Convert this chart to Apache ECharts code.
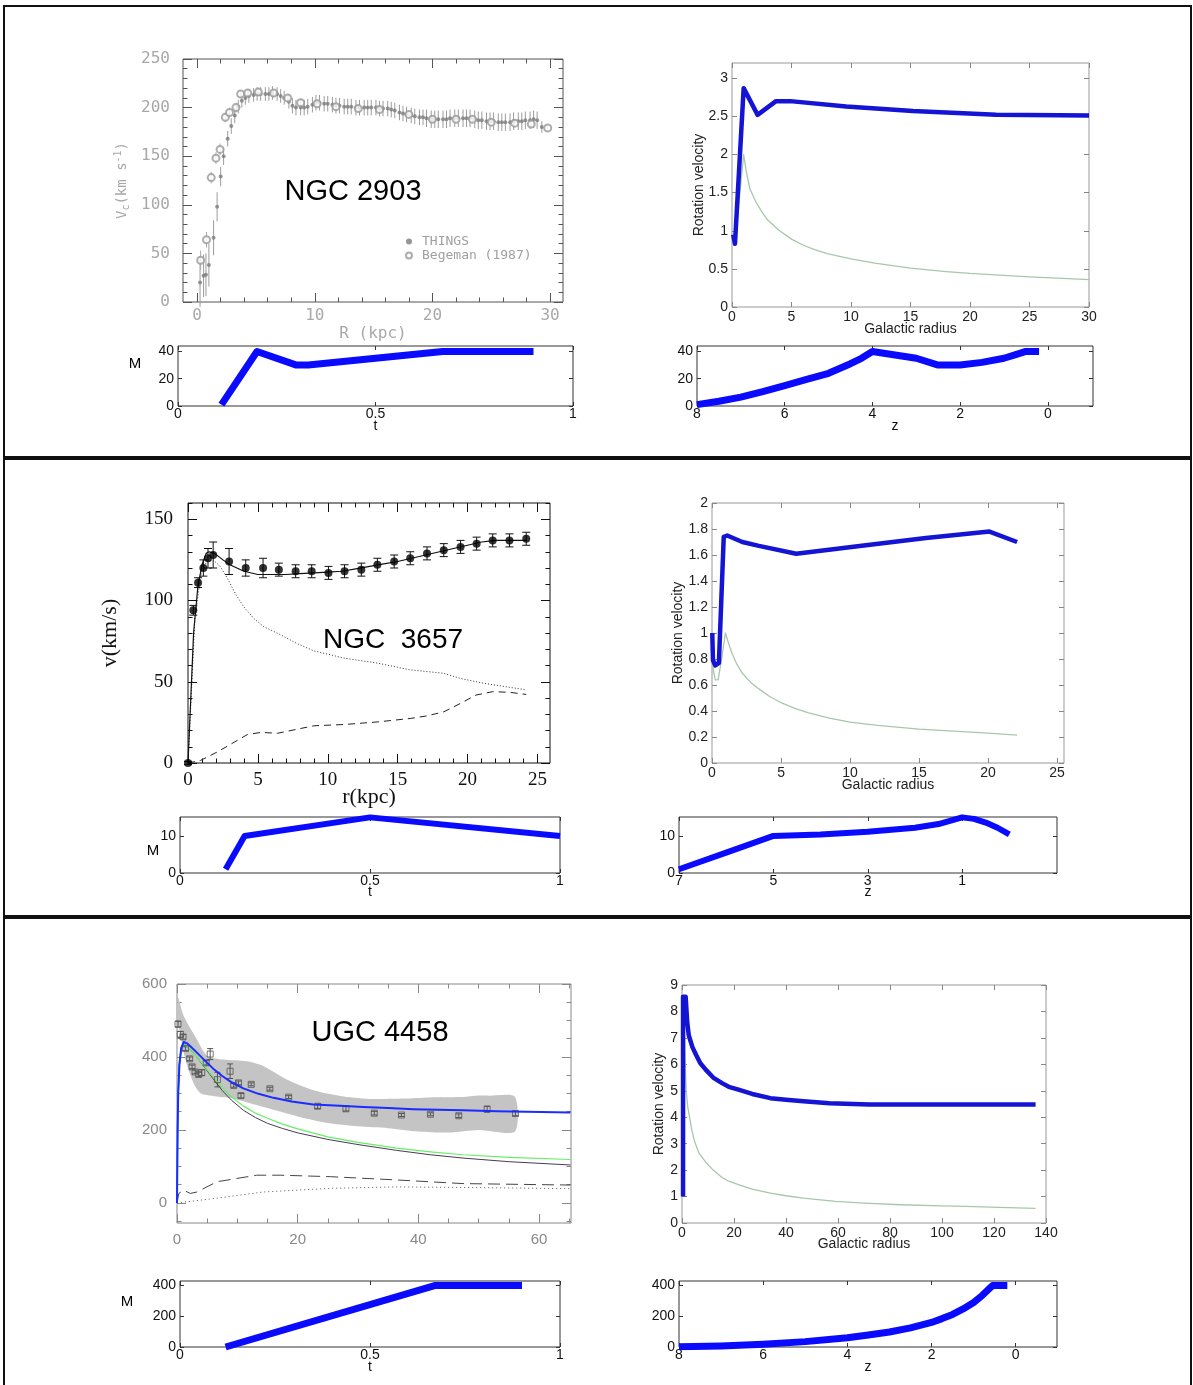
<!DOCTYPE html>
<html>
<head>
<meta charset="utf-8">
<script src="https://cdn.jsdelivr.net/npm/echarts@6/dist/echarts.min.js"></script>
<style>
  html, body { margin: 0; background: #fff; }
  #chart { width: 1193px; height: 1385px; }
</style>
</head>
<body>
<div id="chart"></div>
<script>
// ---------- top row : NGC 2903 ----------
const ngc2903RTicks = [0, 10, 20, 30];
const ngc2903VTicks = [0, 50, 100, 150, 200, 250];
// [R, Vc, error]
const things2903 = [
  [0.25,20,25],[0.55,27,22],[0.75,28,22],[1.0,38,22],[1.4,66,18],[1.7,98,15],[2.0,129,10],[2.25,150,9],
  [2.6,168,8],[2.9,181,8],[3.2,192,8],[3.5,201,7],[3.8,207,7],[4.1,210,7],[4.4,212,7],[4.8,213,7],
  [5.1,214,7],[5.4,214,7],[5.8,214,7],[6.1,214,7],[6.4,215,7],[6.8,214,7],[7.1,212,7],[7.4,210,7],
  [7.8,206,7],[8.1,202,8],[8.4,200,8],[8.8,200,8],[9.1,200,8],[9.4,201,8],[9.8,203,8],[10.1,205,8],
  [10.4,205,8],[10.8,204,8],[11.1,204,8],[11.5,203,8],[11.8,202,8],[12.1,202,8],[12.5,201,8],[12.8,201,8],
  [13.1,201,8],[13.5,200,8],[13.8,200,8],[14.2,200,8],[14.5,200,8],[14.8,200,8],[15.2,200,8],[15.5,199,8],
  [15.8,199,8],[16.2,199,8],[16.5,198,8],[16.8,197,8],[17.2,195,8],[17.5,194,8],[17.8,193,8],[18.2,192,8],
  [18.5,191,8],[18.9,190,8],[19.2,190,8],[19.5,189,9],[19.9,188,9],[20.2,188,9],[20.5,188,9],[20.9,188,9],
  [21.2,188,9],[21.5,189,9],[21.9,189,9],[22.2,189,9],[22.6,189,9],[22.9,189,9],[23.2,189,9],[23.6,188,9],
  [23.9,187,9],[24.2,187,9],[24.6,186,9],[24.9,186,9],[25.2,186,9],[25.6,185,9],[25.9,185,9],[26.2,185,9],
  [26.6,185,9],[26.9,186,9],[27.3,186,9],[27.6,186,9],[27.9,187,9],[28.3,187,9],[28.6,188,9],[28.9,187,9],
  [29.3,180,6]
];
const begeman2903 = [
  [0.3,43,10],[0.8,64,8],[1.2,128,6],[1.6,148,6],[1.95,157,6],[2.4,190,5],[2.75,195,5],[3.3,200,5],
  [3.7,214,4],[4.3,215,4],[5.2,216,4],[6.5,215,4],[7.7,210,4],[8.8,205,4],[10.2,204,4],[11.8,201,3],
  [13.7,199,3],[15.5,198,3],[18,193,3],[20,188,3],[22,188,3],[23.4,188,3],[25,185,3],[27,184,3],
  [28.4,183,3],[29.8,179,3]
];

const rot1RTicks = [0, 5, 10, 15, 20, 25, 30];
const rot1VTicks = [0, 0.5, 1, 1.5, 2, 2.5, 3];
const rot1Total = [[0.1,0.95],[0.25,0.83],[0.98,2.87],[2.15,2.52],[3.7,2.70],[4.9,2.70],[9.6,2.63],[15.2,2.57],[22.2,2.52],[30,2.51]];
const rot1Baryon = [[0.1,0.92],[0.25,0.83],[0.98,2.0],[1.2,1.78],[1.5,1.55],[2,1.38],[2.5,1.25],[3,1.14],[4,1.0],[5,0.89],[6,0.81],[7,0.75],[8,0.70],[10,0.63],[12,0.575],[15,0.51],[18,0.465],[20,0.44],[25,0.395],[30,0.36]];

const massTTicks = [0, 0.5, 1];
const mass1MTicks = [0, 20, 40];
const mass1ZTicks = [8, 6, 4, 2, 0];
const mass1T = [[0.11,1],[0.2,40],[0.3,30],[0.33,30],[0.5,35],[0.67,40],[0.9,40]];
const mass1Z = [[8,1],[7.5,3.5],[7,6.5],[6.5,10.5],[6,15],[5.5,19.5],[5,24],[4.75,27.5],[4.5,31],[4.25,35],[4,40],[3,35],[2.5,30],[2,30],[1.5,32],[1,35],[0.75,37.5],[0.5,40],[0.2,40]];

// ---------- middle row : NGC 3657 ----------
const ngc3657RTicks = [0, 5, 10, 15, 20, 25];
const ngc3657VTicks = [0, 50, 100, 150];
const ngc3657Obs = [
  [0,0,1],[0.38,94,3],[0.72,111,3],[1.1,120,5],[1.43,126,6],[1.8,128,8],[2.94,124,8],[4.13,120,5],
  [5.37,120,6],[6.5,119,4],[7.7,118,4],[8.85,118,4],[10.05,117,4],[11.2,118,4],[12.4,119,4],[13.55,122,4],
  [14.75,124,4],[15.9,126,4],[17.1,129,4],[18.3,131,4],[19.5,133,4],[20.65,135,4],[21.8,137,4],[23.0,137,4],[24.2,138,4]
];
const ngc3657Fit = [[0,0],[0.4,80],[0.7,108],[1.0,122],[1.3,129],[1.5,130],[1.9,129],[2.5,125],[3.0,122],[4.0,118],[5,116],[7,116],[8,116.5],[10,117.5],[11,118],[12,119.5],[13,121],[14,122.5],[15,124],[16,126],[17,128],[18,130],[19,132],[20,134],[21,136],[22,137],[24.2,137]];
const ngc3657Disk = [[0,0],[0.5,90],[1.0,120],[1.4,124],[1.8,125],[2.3,121],[2.8,114],[3.4,104],[4.0,96],[4.7,89],[5.4,84],[6.6,79],[7.8,73.5],[9,69],[11.2,64.5],[13.6,61.4],[15.9,57.3],[18.3,55.2],[19.5,52],[21.2,49],[24.2,45]];
const ngc3657Gas = [[0,0],[0.9,1.6],[2.1,6.8],[4.25,17.5],[5.2,18.8],[6.4,18.3],[9,22.9],[11.2,23.7],[13.6,25.3],[15.9,27.4],[17.1,29],[18.3,31.5],[19.5,36.7],[20.6,41.8],[21.8,43.9],[23,43.5],[24.2,42.2]];

const rot2RTicks = [0, 5, 10, 15, 20, 25];
const rot2VTicks = [0, 0.2, 0.4, 0.6, 0.8, 1, 1.2, 1.4, 1.6, 1.8, 2];
const rot2Total = [[0.02,1.0],[0.07,0.79],[0.24,0.75],[0.5,0.77],[0.85,1.74],[1.1,1.75],[2.2,1.70],[3.4,1.67],[6.1,1.61],[10.7,1.67],[15.5,1.73],[20.1,1.78],[22.1,1.70]];
const rot2Baryon = [[0.02,0.79],[0.12,0.7],[0.24,0.64],[0.44,0.64],[0.7,0.8],[0.97,1.0],[1.2,0.92],[1.46,0.84],[1.8,0.76],[2.2,0.69],[2.8,0.62],[3.4,0.57],[4.2,0.51],[5,0.465],[6,0.42],[7,0.385],[8.5,0.345],[10,0.315],[12,0.29],[15,0.26],[17.5,0.245],[20,0.23],[22.1,0.215]];

const mass2MTicks = [0, 10];
const mass2ZTicks = [7, 5, 3, 1];
const mass2T = [[0.12,1],[0.17,10],[0.5,15],[1,10]];
const mass2Z = [[7,1],[6,5.5],[5,10],[4,10.4],[3,11.1],[2,12.2],[1.5,13.2],[1,15],[0.75,14.6],[0.5,13.6],[0.25,12.2],[0,10.4]];

// ---------- bottom row : UGC 4458 ----------
const ugcRTicks = [0, 20, 40, 60];
const ugcVTicks = [0, 200, 400, 600];
const ugcObs = [
  [0.17,490,8],[0.55,462,8],[1.0,455,6],[1.4,423,5],[2.1,395,5],[2.5,373,5],[3.0,359,5],[3.6,352,6],
  [4.1,357,8],[4.85,384,6],[5.5,408,15],[6.7,338,20],[8.8,361,20],[9.4,322,5],[10.2,329,5],[10.6,294,6],
  [12.3,325,4],[15.4,313,4],[18.5,290,4],[23.3,265,6],[28,258,6],[32.7,246,5],[37.2,241,4],[42,243,4],
  [46.7,239,5],[51.4,257,8],[56.1,245,6]
];
const ugcBandUpR = [0.17,1.1,3.3,5,7.7,11.6,14.3,18.2,22.6,27.6,32.5,37.5,41.9,46.9,49.6,51.8,56];
const ugcBandUp = [563,513,448,403,393,388,375,338,309,292,285,286,289,290,294,294,291];
const ugcBandLowR = [0.17,0.5,1,2,3,4,6,8.5,10,15,20,25,30,35,40,45,50,56];
const ugcBandLow = [490,470,420,360,320,300,293,288,283,260,237,219,210,205,196,193,200,196];
const ugcFit = [[0,0],[0.1,200],[0.2,300],[0.4,380],[0.7,425],[1.1,441],[1.6,438],[2.3,428],[3.3,412],[4.5,392],[6,368],[7.5,348],[9,331],[11,314],[13.5,299],[16,288],[19,278],[22.6,270],[27,266],[30.9,263],[35,260],[39.2,257],[47.4,254],[53,251],[65.2,248]];
const ugcHalo = [[0,0],[0.1,200],[0.2,300],[0.4,380],[0.7,425],[1.0,435],[1.5,432],[2.2,420],[3.3,400],[4.5,375],[6,345],[7.5,316],[9,291],[11,266],[13,246],[15,232],[17.5,216],[20,203],[25,181],[30,166],[36.4,150],[42,140],[47.4,132],[55,125],[65.2,119]];
const ugcStars = [[0,0],[0.1,200],[0.2,300],[0.4,380],[0.7,425],[1.0,435],[1.5,432],[2.2,420],[3.3,400],[4.5,373],[6,340],[7.5,308],[9,282],[11,254],[13,234],[15,218],[17.5,204],[20,192],[25,174],[30,160],[36.4,144],[42,132],[47.4,123],[55,113],[65.2,104]];
const ugcGas = [[0,0],[0.3,26],[1.1,35],[2.2,26],[3.3,30],[6.6,58],[13.2,76],[17.1,76],[25.4,72],[36.4,63],[47.4,53],[65.2,49]];
const ugcDust = [[0,0],[6.1,12],[14.3,30],[25.4,40],[36.4,44],[50,42],[65.2,39]];
const ugcInner = [[0,0],[0.1,200],[0.2,300],[0.4,380],[0.8,428],[1.2,438]];

const rot3RTicks = [0, 20, 40, 60, 80, 100, 120, 140];
const rot3VTicks = [0, 1, 2, 3, 4, 5, 6, 7, 8, 9];
const rot3Total = [[0.4,1.0],[0.4,8.56],[1.4,8.56],[2,7.6],[2.6,7.1],[4,6.65],[5.4,6.36],[7,6.05],[9.1,5.8],[12,5.5],[15.4,5.29],[18,5.15],[21.7,5.04],[27,4.88],[34,4.72],[40,4.66],[46.7,4.6],[56.7,4.53],[72,4.48],[136,4.48]];
const rot3Baryon = [[0.7,8.4],[1,6.8],[1.6,5.0],[2.2,4.4],[2.9,4.0],[3.8,3.5],[4.8,3.1],[6.5,2.65],[9.1,2.3],[12,2.0],[15.4,1.72],[18,1.58],[21.7,1.45],[27,1.28],[34,1.13],[40,1.03],[46.7,0.94],[59,0.82],[70,0.75],[84,0.69],[100,0.65],[109,0.63],[122,0.59],[136,0.55]];

const mass3MTicks = [0, 200, 400];
const mass3T = [[0.12,0],[0.67,400],[0.9,400]];
const mass3Z = [[8,2],[7,7],[6,18],[5,35],[4,60],[3.5,78],[3,98],[2.5,125],[2,160],[1.75,185],[1.5,212],[1.25,248],[1,290],[0.8,335],[0.65,375],[0.55,400],[0.2,400]];

// ---------- building ----------
const sans = 'Liberation Sans', serif = 'Liberation Serif', mono = 'DejaVu Sans Mono';
const xAxes = [], yAxes = [], grids = [], series = [];

function steps(a, b, d) {
  const r = [];
  for (let v = a; v <= b + 1e-9; v += d) r.push(+v.toFixed(6));
  return r;
}

function axis(list, gi, pos, o, ticks, len, withLabel) {
  const a = {
    type: 'value', gridIndex: gi, position: pos, min: o.min, max: o.max, inverse: !!o.inverse,
    axisLine: {show: false, onZero: false},
    splitLine: {show: false},
    axisTick: {show: true, inside: true, length: len, customValues: ticks, lineStyle: {color: o.tickColor, width: 1}},
    axisLabel: {show: false}
  };
  if (withLabel) {
    a.axisLabel = Object.assign({show: true, customValues: ticks}, o.label);
    if (o.name) {
      a.name = o.name; a.nameLocation = 'middle'; a.nameGap = o.nameGap;
      a.nameTextStyle = o.nameStyle; a.nameMoveOverlap = false;
    }
  }
  list.push(a);
  return list.length - 1;
}

function panel(box, border, x, y) {
  grids.push({left: box[0], top: box[1], width: box[2], height: box[3], show: true,
    borderColor: border, borderWidth: 1, backgroundColor: 'transparent', outerBoundsMode: 'none', containLabel: false});
  const gi = grids.length - 1;
  const xi = axis(xAxes, gi, 'bottom', x, x.major, x.len, true);
  axis(xAxes, gi, 'top', x, x.major, x.len, false);
  if (x.minor) {
    axis(xAxes, gi, 'bottom', x, x.minor, x.len / 2, false);
    axis(xAxes, gi, 'top', x, x.minor, x.len / 2, false);
  }
  const yi = axis(yAxes, gi, 'left', y, y.major, y.len, true);
  axis(yAxes, gi, 'right', y, y.major, y.len, false);
  if (y.minor) {
    axis(yAxes, gi, 'left', y, y.minor, y.len / 2, false);
    axis(yAxes, gi, 'right', y, y.minor, y.len / 2, false);
  }
  return {x: xi, y: yi};
}

function line(ax, data, color, width, type, smooth, z) {
  series.push({type: 'line', xAxisIndex: ax.x, yAxisIndex: ax.y, data: data, showSymbol: false,
    smooth: smooth || false, smoothMonotone: 'x', z: z || 3, silent: true,
    lineStyle: {color: color, width: width, type: type || 'solid', cap: 'butt', join: 'round'}});
}

function errBars(ax, pts, color, cap) {
  series.push({type: 'custom', xAxisIndex: ax.x, yAxisIndex: ax.y, data: pts, silent: true, z: 2,
    encode: {x: 0, y: 1},
    renderItem: function (params, api) {
      const x = api.value(0), y = api.value(1), e = api.value(2);
      const lo = api.coord([x, y - e]), hi = api.coord([x, y + e]);
      const kids = [{type: 'line', shape: {x1: lo[0], y1: lo[1], x2: hi[0], y2: hi[1]}, style: {stroke: color, lineWidth: 1}}];
      if (cap) {
        kids.push({type: 'line', shape: {x1: lo[0] - cap, y1: lo[1], x2: lo[0] + cap, y2: lo[1]}, style: {stroke: color, lineWidth: 1}});
        kids.push({type: 'line', shape: {x1: hi[0] - cap, y1: hi[1], x2: hi[0] + cap, y2: hi[1]}, style: {stroke: color, lineWidth: 1}});
      }
      return {type: 'group', children: kids};
    }});
}

function points(ax, pts, name, symbol, size, style) {
  series.push({type: 'scatter', name: name, xAxisIndex: ax.x, yAxisIndex: ax.y, z: 4, silent: true,
    data: pts.map(p => [p[0], p[1]]), symbol: symbol, symbolSize: size, itemStyle: style});
}

const matLab = {color: '#222', fontFamily: sans, fontSize: 14};
const matName = {color: '#222', fontFamily: sans, fontSize: 14};
const smallLab = {color: '#111', fontFamily: sans, fontSize: 14};

// NGC 2903
const pgLab = {color: '#a8a8a8', fontFamily: mono, fontSize: 16};
const a0 = panel([183, 59, 380, 243], '#555',
  {min: -1.2, max: 31.1, major: ngc2903RTicks, minor: steps(0, 30, 2), len: 9, tickColor: '#555',
   label: Object.assign({margin: 6}, pgLab), name: 'R (kpc)', nameGap: 24, nameStyle: pgLab},
  {min: 0, max: 250, major: ngc2903VTicks, minor: steps(0, 250, 10), len: 9, tickColor: '#555',
   label: Object.assign({margin: 13}, pgLab),
   name: '{v|V}{s|c}{v|(km s}{e|-1}{v|)}', nameGap: 52,
   nameStyle: {color: '#a8a8a8', fontFamily: mono, fontSize: 14,
     rich: {v: {fontFamily: mono, fontSize: 14, color: '#a8a8a8'},
            s: {fontFamily: mono, fontSize: 10, color: '#a8a8a8', padding: [8, 0, 0, 0]},
            e: {fontFamily: mono, fontSize: 10, color: '#a8a8a8', padding: [0, 0, 8, 0]}}}});
errBars(a0, things2903, '#9c9c9c', 0);
errBars(a0, begeman2903, '#aaaaaa', 0);
points(a0, things2903, 'THINGS', 'circle', 4, {color: '#7c7c7c'});
points(a0, begeman2903, 'Begeman (1987)', 'emptyCircle', 7, {color: '#999', borderWidth: 1});

// top right
const a1 = panel([732, 63, 357, 244], '#999',
  {min: 0, max: 30, major: rot1RTicks, len: 5, tickColor: '#888', label: Object.assign({margin: 3}, matLab),
   name: 'Galactic radius', nameGap: 15, nameStyle: matName},
  {min: 0, max: 3.2, major: rot1VTicks, len: 5, tickColor: '#888', label: Object.assign({margin: 4}, matLab),
   name: 'Rotation velocity', nameGap: 26, nameStyle: {color: '#222', fontFamily: sans, fontSize: 14}});
line(a1, rot1Baryon, '#a7c7ab', 1.3);
line(a1, rot1Total, '#1414d4', 4.5, 'solid', false, 5);

// top small t / z
const a2 = panel([178, 346, 395, 60], '#333',
  {min: 0, max: 1, major: massTTicks, len: 4, tickColor: '#333', label: Object.assign({margin: 1}, smallLab),
   name: 't', nameGap: 13, nameStyle: smallLab},
  {min: 0, max: 44, major: mass1MTicks, len: 4, tickColor: '#333', label: Object.assign({margin: 4}, smallLab)});
line(a2, mass1T, '#0a0aff', 7);
const a3 = panel([697, 346, 396, 60], '#333',
  {min: -1.03, max: 8, inverse: true, major: mass1ZTicks, len: 4, tickColor: '#333', label: Object.assign({margin: 1}, smallLab),
   name: 'z', nameGap: 13, nameStyle: smallLab},
  {min: 0, max: 44, major: mass1MTicks, len: 4, tickColor: '#333', label: Object.assign({margin: 4}, smallLab)});
line(a3, mass1Z, '#0a0aff', 7);

// NGC 3657
const serLab = {color: '#111', fontFamily: serif, fontSize: 19};
const a4 = panel([188, 503, 362, 260], '#111',
  {min: 0, max: 25.9, major: ngc3657RTicks, minor: steps(0, 25, 1), len: 9, tickColor: '#111',
   label: Object.assign({margin: 8}, serLab), name: 'r(kpc)', nameGap: 23,
   nameStyle: {color: '#111', fontFamily: serif, fontSize: 22}},
  {min: 0, max: 160, major: ngc3657VTicks, minor: steps(0, 160, 10), len: 9, tickColor: '#111',
   label: Object.assign({margin: 15}, serLab), name: 'v(km/s)', nameGap: 67,
   nameStyle: {color: '#111', fontFamily: serif, fontSize: 22}});
line(a4, ngc3657Gas, '#222', 1, [7, 5]);
line(a4, ngc3657Disk, '#333', 1, [1, 2]);
line(a4, ngc3657Fit, '#111', 1.2);
errBars(a4, ngc3657Obs, '#111', 4);
points(a4, ngc3657Obs, 'obs', 'circle', 8, {color: '#000'});

// middle right
const a5 = panel([712, 503, 352, 260], '#999',
  {min: 0, max: 25.5, major: rot2RTicks, len: 5, tickColor: '#888', label: Object.assign({margin: 3}, matLab),
   name: 'Galactic radius', nameGap: 15, nameStyle: matName},
  {min: 0, max: 2, major: rot2VTicks, len: 5, tickColor: '#888', label: Object.assign({margin: 4}, matLab),
   name: 'Rotation velocity', nameGap: 27, nameStyle: {color: '#222', fontFamily: sans, fontSize: 14}});
line(a5, rot2Baryon, '#a7c7ab', 1.3);
line(a5, rot2Total, '#1414d4', 4.5, 'solid', false, 5);

// middle small t / z
const a6 = panel([180, 817, 380, 56], '#333',
  {min: 0, max: 1, major: massTTicks, len: 4, tickColor: '#333', label: Object.assign({margin: 1}, smallLab),
   name: 't', nameGap: 12, nameStyle: smallLab},
  {min: 0, max: 15.1, major: mass2MTicks, len: 4, tickColor: '#333', label: Object.assign({margin: 4}, smallLab)});
line(a6, mass2T, '#0a0aff', 6);
const a7 = panel([679, 817, 378, 56], '#333',
  {min: -1.01, max: 7, inverse: true, major: mass2ZTicks, len: 4, tickColor: '#333', label: Object.assign({margin: 1}, smallLab),
   name: 'z', nameGap: 12, nameStyle: smallLab},
  {min: 0, max: 15.1, major: mass2MTicks, len: 4, tickColor: '#333', label: Object.assign({margin: 4}, smallLab)});
line(a7, mass2Z, '#0a0aff', 6);

// UGC 4458
const ugLab = {color: '#888', fontFamily: sans, fontSize: 15};
const a8 = panel([177, 984, 394, 239], '#888',
  {min: 0, max: 65.3, major: ugcRTicks, minor: steps(0, 65, 5), len: 9, tickColor: '#888', label: Object.assign({margin: 9}, ugLab)},
  {min: -55, max: 600, major: ugcVTicks, minor: steps(-50, 600, 50), len: 9, tickColor: '#888', label: Object.assign({margin: 10}, ugLab)});
series.push({type: 'custom', xAxisIndex: a8.x, yAxisIndex: a8.y, silent: true, z: 1,
  data: [[ugcBandUpR[0], ugcBandUp[0]]], encode: {x: 0, y: 1},
  renderItem: function (params, api) {
    const pts = [];
    ugcBandUpR.forEach((r, i) => pts.push(api.coord([r, ugcBandUp[i]])));
    for (let i = ugcBandLowR.length - 1; i >= 0; i--) pts.push(api.coord([ugcBandLowR[i], ugcBandLow[i]]));
    return {type: 'polygon', shape: {points: pts, smooth: 0.25}, style: {fill: '#c4c4c4'}};
  }});
line(a8, ugcDust, '#555', 1, [1, 3]);
line(a8, ugcGas, '#444', 1, [12, 6]);
line(a8, ugcStars, '#4a3a55', 1);
line(a8, ugcHalo, '#66ee66', 1.2);
line(a8, ugcInner, '#33c0e8', 1.5);
errBars(a8, ugcObs, '#555', 3);
points(a8, ugcObs, 'sq', 'rect', 6, {color: 'rgba(0,0,0,0)', borderColor: '#555', borderWidth: 1});
line(a8, ugcFit, '#1a2cff', 2, 'solid', false, 5);

// bottom right
const a9 = panel([682, 985, 364, 238], '#999',
  {min: 0, max: 140, major: rot3RTicks, len: 5, tickColor: '#888', label: Object.assign({margin: 3}, matLab),
   name: 'Galactic radius', nameGap: 14, nameStyle: matName},
  {min: 0, max: 9, major: rot3VTicks, len: 5, tickColor: '#888', label: Object.assign({margin: 4}, matLab),
   name: 'Rotation velocity', nameGap: 16, nameStyle: {color: '#222', fontFamily: sans, fontSize: 14}});
line(a9, rot3Baryon, '#a7c7ab', 1.3);
line(a9, rot3Total, '#1414d4', 4.5, 'solid', false, 5);

// bottom small t / z
const a10 = panel([180, 1281, 380, 66], '#333',
  {min: 0, max: 1, major: massTTicks, len: 4, tickColor: '#333', label: Object.assign({margin: 1}, smallLab),
   name: 't', nameGap: 13, nameStyle: smallLab},
  {min: 0, max: 430, major: mass3MTicks, len: 4, tickColor: '#333', label: Object.assign({margin: 4}, smallLab)});
line(a10, mass3T, '#0a0aff', 7);
const a11 = panel([679, 1281, 378, 66], '#333',
  {min: -0.98, max: 8, inverse: true, major: mass1ZTicks, len: 4, tickColor: '#333', label: Object.assign({margin: 1}, smallLab),
   name: 'z', nameGap: 13, nameStyle: smallLab},
  {min: 0, max: 430, major: mass3MTicks, len: 4, tickColor: '#333', label: Object.assign({margin: 4}, smallLab)});
line(a11, mass3Z, '#0a0aff', 7);

// frame, titles, M labels
function seg(x1, y1, x2, y2, w) {
  return {type: 'line', silent: true, shape: {x1: x1, y1: y1, x2: x2, y2: y2}, style: {stroke: '#111', lineWidth: w}};
}
function label(x, y, text, size) {
  return {type: 'text', x: x, y: y, silent: true,
    style: {text: text, fill: '#000', font: size + 'px "Liberation Sans"', align: 'center', verticalAlign: 'middle'}};
}

const chart = echarts.init(document.getElementById('chart'), null, {renderer: 'canvas'});
chart.setOption({
  animation: false,
  backgroundColor: '#fff',
  grid: grids,
  xAxis: xAxes,
  yAxis: yAxes,
  legend: {
    show: true, orient: 'vertical', left: 405, top: 235, itemGap: 1, itemWidth: 8, itemHeight: 6,
    selectedMode: false, padding: 0,
    data: [{name: 'THINGS', icon: 'circle'}, {name: 'Begeman (1987)', icon: 'emptyCircle'}],
    textStyle: {fontFamily: mono, fontSize: 13, color: '#a0a0a0', padding: [0, 0, 0, 4]}
  },
  series: series,
  graphic: [
    seg(4, 6, 1191, 6, 2), seg(4, 5, 4, 1385, 2), seg(1191, 5, 1191, 1385, 2),
    seg(4, 458, 1191, 458, 4), seg(4, 917, 1191, 917, 4),
    label(353, 192, 'NGC 2903', 29),
    label(393, 640, 'NGC  3657', 28),
    label(380, 1033, 'UGC 4458', 29),
    label(135, 364, 'M', 15), label(153, 851, 'M', 15), label(127, 1302, 'M', 15)
  ]
});
</script>
</body>
</html>
